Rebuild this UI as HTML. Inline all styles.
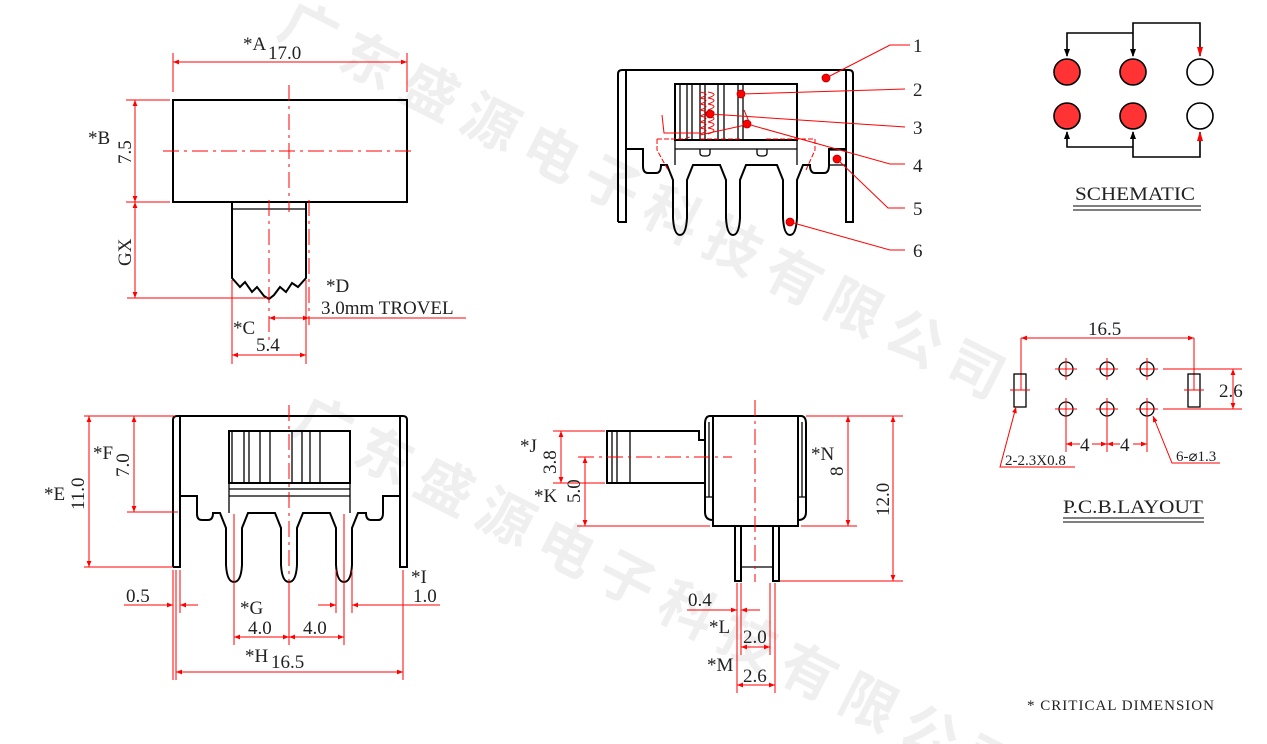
<!DOCTYPE html>
<html><head><meta charset="utf-8"><style>
html,body{margin:0;padding:0;background:#fff;width:1267px;height:744px;overflow:hidden;}
svg{display:block;}
text{font-family:"Liberation Serif",serif;}
.k{stroke:#000;stroke-width:2;fill:none;}
.k1{stroke:#000;stroke-width:1.3;fill:none;}
.r{stroke:#f00;stroke-width:1;fill:none;}
.rd{stroke:#f00;stroke-width:1;fill:none;stroke-dasharray:16,5,3,5;}
.t{font-size:19px;fill:#222;}
.wm{font-family:"Liberation Sans","Noto Sans CJK SC",sans-serif;font-size:56px;font-weight:bold;fill:#000;opacity:0.06;letter-spacing:12px;}
</style></head><body>
<svg width="1267" height="744" viewBox="0 0 1267 744" xmlns="http://www.w3.org/2000/svg">
<defs>
<marker id="a" viewBox="0 0 10 10" refX="10" refY="5" markerWidth="8" markerHeight="6" orient="auto-start-reverse"><path d="M0,1 L10,5 L0,9 z" fill="#f00"/></marker>
</defs>

<!-- watermarks -->
<text class="wm" transform="translate(275,35) rotate(27)">广东盛源电子科技有限公司</text>
<text class="wm" transform="translate(290,430) rotate(27)">广东盛源电子科技有限公司</text>

<!-- ========== TOP LEFT VIEW ========== -->
<rect class="k" x="173" y="100" width="234" height="102"/>
<path class="k" d="M232,202 V278 L240,287 245,282 252,292 257,287 264,296 269,299 274,295 280,287 286,292 292,283 298,287 306,278 V202"/>
<line class="k1" x1="232" y1="209" x2="306" y2="209"/>
<line class="rd" x1="289" y1="85" x2="289" y2="212"/>
<line class="rd" x1="163" y1="151" x2="413" y2="151"/>
<line class="rd" x1="269" y1="200" x2="269" y2="345"/>
<line class="rd" x1="309" y1="200" x2="309" y2="325"/>
<line class="r" x1="173" y1="53" x2="173" y2="92"/><line class="r" x1="407" y1="53" x2="407" y2="92"/>
<line class="r" x1="173" y1="62" x2="407" y2="62" marker-start="url(#a)" marker-end="url(#a)"/>
<text class="t" x="243" y="50">*A</text><text class="t" x="268" y="59">17.0</text>
<line class="r" x1="126" y1="100" x2="170" y2="100"/><line class="r" x1="126" y1="202" x2="170" y2="202"/>
<line class="r" x1="135" y1="100" x2="135" y2="202" marker-start="url(#a)" marker-end="url(#a)"/>
<text class="t" x="88" y="144">*B</text>
<text class="t" transform="translate(131,164) rotate(-90)">7.5</text>
<line class="r" x1="127" y1="298" x2="268" y2="298"/>
<line class="r" x1="135" y1="202" x2="135" y2="298" marker-start="url(#a)" marker-end="url(#a)"/>
<text class="t" transform="translate(131,266) rotate(-90)">GX</text>
<line class="r" x1="232" y1="280" x2="232" y2="364"/><line class="r" x1="306" y1="280" x2="306" y2="364"/>
<line class="r" x1="232" y1="355" x2="306" y2="355" marker-start="url(#a)" marker-end="url(#a)"/>
<text class="t" x="233" y="334">*C</text><text class="t" x="256" y="351">5.4</text>
<line class="r" x1="269" y1="318" x2="309" y2="318" marker-start="url(#a)" marker-end="url(#a)"/>
<line class="r" x1="309" y1="318" x2="466" y2="318"/>
<text class="t" x="326" y="292">*D</text><text class="t" x="321" y="314">3.0mm TROVEL</text>

<!-- ========== TOP MIDDLE VIEW ========== -->
<path class="k" d="M618,222 V74 Q618,70 622,70 H849 Q853,70 853,74 V222 H846 V75 M626,75 V222 H618"/>
<line class="k" x1="626" y1="70" x2="626" y2="222"/>
<line class="k" x1="846" y1="70" x2="846" y2="222"/>
<rect class="k" x="675" y="84" width="122" height="56"/>
<g class="k1">
<line x1="680" y1="84" x2="680" y2="140"/><line x1="687" y1="84" x2="687" y2="140"/><line x1="692" y1="84" x2="692" y2="140"/>
<line x1="700" y1="84" x2="700" y2="140"/><line x1="705" y1="84" x2="705" y2="140"/><line x1="718" y1="84" x2="718" y2="140"/>
<line x1="724" y1="84" x2="724" y2="140"/><line x1="738" y1="84" x2="738" y2="140"/><line x1="743" y1="84" x2="743" y2="140"/>
<line x1="675" y1="149" x2="797" y2="149"/>
<path d="M675,140 V165 M797,140 V165"/>
<path d="M700,149 V153 Q700,156 704,156 H706 Q710,156 710,153 V149 M757,149 V153 Q757,156 761,156 H763 Q767,156 767,153 V149"/>
<rect x="829" y="150" width="17" height="15"/>
</g>
<path class="k" d="M626,149 H643 V166 Q643,173 648,173 H656 Q661,173 661,165 H667
 L673,180 L673,218 Q674,235 680,235 Q686,235 687,218 L687,180 L693,165 H720
 L726,180 L726,218 Q727,235 733,235 Q739,235 740,218 L740,180 L746,165 H777
 L783,180 L783,218 Q784,235 790,235 Q796,235 797,218 L797,180 L803,165 H810 Q810,173 815,173 H824 Q829,173 829,165 V149 H846"/>
<g class="r">
<path d="M700,92 q12,2 0,6 q12,2 0,6 q12,2 0,6 q12,2 0,6 q12,2 0,6 q12,2 0,6 q12,2 0,6 M708,92 q12,2 0,6 q12,2 0,6 q12,2 0,6 q12,2 0,6 q12,2 0,6 q12,2 0,6 q12,2 0,6"/>
<path d="M662,115 L664,133 H700 M744,110 L750,124 L700,135"/>
<path d="M657,139 H684 L690,137 M700,139 H740 M766,139 H815 M657,139 V150 L668,170 M815,139 V150 L806,170" stroke-dasharray="5,2"/>
</g>
<g fill="#f00" stroke="#a00" stroke-width="0.8">
<circle cx="826" cy="78" r="4"/><circle cx="741" cy="94" r="4"/><circle cx="710" cy="114" r="4"/><circle cx="747" cy="124" r="4"/><circle cx="837" cy="159" r="4"/><circle cx="790" cy="222" r="4"/>
</g>
<g class="r">
<polyline points="826,78 890,45 910,45"/>
<polyline points="741,94 905,89"/>
<polyline points="710,114 905,127"/>
<polyline points="747,124 890,164 905,164"/>
<polyline points="837,159 888,208 905,208"/>
<polyline points="790,222 890,250 905,250"/>
</g>
<g class="t"><text x="913" y="52">1</text><text x="913" y="96">2</text><text x="913" y="134">3</text><text x="913" y="172">4</text><text x="913" y="215">5</text><text x="913" y="257">6</text></g>

<!-- ========== SCHEMATIC ========== -->
<g stroke="#000" stroke-width="1.6" fill="none">
<polyline points="1067,56 1067,33 1133,33"/>
<polyline points="1133,56 1133,23 1200,23 1200,56"/>
<polyline points="1067,132 1067,147 1133,147"/>
<polyline points="1133,132 1133,157 1200,157 1200,132"/>
</g>
<path d="M1064,49 L1067,57 L1070,49 z M1130,49 L1133,57 L1136,49 z M1064,139 L1067,131 L1070,139 z M1130,139 L1133,131 L1136,139 z" fill="#000"/>
<path d="M1197,47 L1200,57 L1203,47 z M1197,141 L1200,131 L1203,141 z" fill="#f00"/>
<g stroke="#000" stroke-width="1.6">
<circle cx="1067" cy="72" r="13" fill="#f33"/><circle cx="1133" cy="72" r="13" fill="#f33"/><circle cx="1200" cy="72" r="13" fill="#fff"/>
<circle cx="1067" cy="116" r="13" fill="#f33"/><circle cx="1133" cy="116" r="13" fill="#f33"/><circle cx="1200" cy="116" r="13" fill="#fff"/>
</g>
<text class="t" x="1075" y="200" textLength="120" lengthAdjust="spacingAndGlyphs">SCHEMATIC</text>
<line x1="1073" y1="206" x2="1201" y2="206" stroke="#000"/><line x1="1073" y1="210" x2="1201" y2="210" stroke="#000"/>

<!-- ========== PCB LAYOUT ========== -->
<line class="r" x1="1021" y1="338" x2="1021" y2="390"/><line class="r" x1="1194" y1="338" x2="1194" y2="390"/>
<line class="r" x1="1021" y1="338" x2="1194" y2="338" marker-start="url(#a)" marker-end="url(#a)"/>
<text class="t" x="1088" y="335">16.5</text>
<g class="k1">
<rect x="1014" y="374" width="12" height="33"/><rect x="1188" y="374" width="12" height="33"/>
<circle cx="1066" cy="369" r="7"/><circle cx="1107" cy="369" r="7"/><circle cx="1147" cy="369" r="7"/>
<circle cx="1066" cy="409" r="7"/><circle cx="1107" cy="409" r="7"/><circle cx="1147" cy="409" r="7"/>
</g>
<g class="r">
<path d="M1055,369 h22 M1066,358 v22 M1096,369 h22 M1107,358 v22 M1136,369 h22 M1147,358 v22"/>
<path d="M1055,409 h22 M1066,398 v22 M1096,409 h22 M1107,398 v22 M1136,409 h22 M1147,398 v22"/>
<path d="M1010,390 h20 M1184,390 h20"/>
<path d="M1163,369 H1242 M1163,409 H1242"/>
<line x1="1233" y1="369" x2="1233" y2="409" marker-start="url(#a)" marker-end="url(#a)"/>
<path d="M1066,420 V452 M1107,420 V452 M1147,420 V452"/>
<line x1="1066" y1="444" x2="1080" y2="444" marker-start="url(#a)"/><line x1="1092" y1="444" x2="1107" y2="444" marker-end="url(#a)"/>
<line x1="1107" y1="444" x2="1120" y2="444" marker-start="url(#a)"/><line x1="1133" y1="444" x2="1147" y2="444" marker-end="url(#a)"/>
<polyline points="1075,467 1000,467 1016,407" marker-end="url(#a)"/>
<polyline points="1220,463 1172,463 1153,416" marker-end="url(#a)"/>
</g>
<text class="t" x="1219" y="397">2.6</text>
<text class="t" x="1080" y="451">4</text><text class="t" x="1120" y="451">4</text>
<text x="1005" y="465" style="font-size:15px;fill:#222">2-2.3X0.8</text>
<text x="1176" y="461" style="font-size:15px;fill:#222">6-⌀1.3</text>
<text class="t" x="1063" y="513" textLength="140" lengthAdjust="spacingAndGlyphs">P.C.B.LAYOUT</text>
<line x1="1063" y1="518" x2="1204" y2="518" stroke="#000"/><line x1="1063" y1="522" x2="1204" y2="522" stroke="#000"/>

<!-- ========== BOTTOM LEFT VIEW ========== -->
<path class="k" d="M173,567 V420 Q173,416 177,416 H403 Q407,416 407,420 V567 H400 V424 M180,424 V567 H173"/>
<line class="k" x1="180" y1="416" x2="180" y2="567"/><line class="k" x1="400" y1="416" x2="400" y2="567"/>
<rect class="k" x="229" y="431" width="121" height="52"/>
<g class="k1">
<line x1="232" y1="431" x2="232" y2="483"/><line x1="244" y1="431" x2="244" y2="483"/><line x1="249" y1="431" x2="249" y2="483"/>
<line x1="260" y1="431" x2="260" y2="483"/><line x1="270" y1="431" x2="270" y2="483"/><line x1="292" y1="431" x2="292" y2="483"/>
<line x1="302" y1="431" x2="302" y2="483"/><line x1="310" y1="431" x2="310" y2="483"/><line x1="320" y1="431" x2="320" y2="483"/>
<line x1="229" y1="489" x2="350" y2="489"/><line x1="229" y1="496" x2="350" y2="496"/>
<line x1="229" y1="483" x2="229" y2="513"/><line x1="350" y1="483" x2="350" y2="513"/>
</g>
<path class="k" d="M180,496 H197 V514 Q197,520 202,520 H208 Q213,520 213,513 H220
 L226,528 L226,565 Q227,582 234,582 Q241,582 242,565 L242,528 L248,513 H275
 L281,528 L281,565 Q282,582 289,582 Q296,582 297,565 L297,528 L303,513 H330
 L336,528 L336,565 Q337,582 344,582 Q351,582 352,565 L352,528 L358,513 H366 Q366,520 371,520 H378 Q383,520 383,513 V496 H400"/>
<line class="rd" x1="289" y1="405" x2="289" y2="590"/>
<g class="r">
<line x1="84" y1="416" x2="175" y2="416"/><line x1="127" y1="512" x2="178" y2="512"/><line x1="84" y1="567" x2="173" y2="567"/>
<line x1="89" y1="416" x2="89" y2="567" marker-start="url(#a)" marker-end="url(#a)"/>
<line x1="134" y1="416" x2="134" y2="512" marker-start="url(#a)" marker-end="url(#a)"/>
<line x1="173" y1="570" x2="173" y2="680"/><line x1="176" y1="570" x2="176" y2="680"/><line x1="180" y1="570" x2="180" y2="613"/>
<line x1="403" y1="570" x2="403" y2="680"/>
<line x1="234" y1="514" x2="234" y2="645"/><line x1="289" y1="590" x2="289" y2="645"/><line x1="344" y1="514" x2="344" y2="645"/>
<line x1="336" y1="570" x2="336" y2="613"/><line x1="352" y1="570" x2="352" y2="613"/>
<line x1="124" y1="605" x2="173" y2="605" marker-end="url(#a)"/><line x1="198" y1="605" x2="180" y2="605" marker-end="url(#a)"/>
<line x1="318" y1="605" x2="336" y2="605" marker-end="url(#a)"/><line x1="440" y1="605" x2="352" y2="605" marker-end="url(#a)"/>
<line x1="234" y1="637" x2="289" y2="637" marker-start="url(#a)" marker-end="url(#a)"/>
<line x1="289" y1="637" x2="344" y2="637" marker-start="url(#a)" marker-end="url(#a)"/>
<line x1="176" y1="672" x2="403" y2="672" marker-start="url(#a)" marker-end="url(#a)"/>
</g>
<text class="t" x="44" y="500">*E</text>
<text class="t" transform="translate(84,510) rotate(-90)">11.0</text>
<text class="t" x="93" y="459">*F</text>
<text class="t" transform="translate(129,477) rotate(-90)">7.0</text>
<text class="t" x="126" y="602">0.5</text>
<text class="t" x="411" y="583">*I</text><text class="t" x="413" y="602">1.0</text>
<text class="t" x="240" y="614">*G</text>
<text class="t" x="248" y="634">4.0</text><text class="t" x="303" y="634">4.0</text>
<text class="t" x="245" y="662">*H</text><text class="t" x="271" y="668">16.5</text>

<!-- ========== BOTTOM MIDDLE VIEW ========== -->
<path class="k" d="M713,416 H798 V526 H713 Z"/>
<path class="k" d="M713,416 H710 Q705,416 705,424 V512 Q705,520 713,520 M798,416 H801 Q806,416 806,424 V512 Q806,520 798,520"/>
<path class="k1" d="M709,422 V497 M802,422 V497 M705,497 H713 M798,497 H806"/>
<path class="k" d="M704,440 H699 V431 H607 V483 H704"/>
<g class="k1"><line x1="612" y1="431" x2="612" y2="483"/><line x1="617" y1="431" x2="617" y2="483"/><line x1="630" y1="431" x2="630" y2="483"/></g>
<path class="k" d="M735,526 V581 H741 V526 M773,526 V581 H779 V526"/>
<line class="k1" x1="741" y1="567" x2="773" y2="567"/>
<line class="rd" x1="755" y1="400" x2="755" y2="582"/>
<line class="rd" x1="578" y1="457" x2="732" y2="457"/>
<g class="r">
<line x1="553" y1="431" x2="605" y2="431"/><line x1="553" y1="483" x2="605" y2="483"/><line x1="577" y1="526" x2="710" y2="526"/>
<line x1="561" y1="431" x2="561" y2="483" marker-start="url(#a)" marker-end="url(#a)"/>
<line x1="585" y1="457" x2="585" y2="526" marker-start="url(#a)" marker-end="url(#a)"/>
<line x1="806" y1="416" x2="903" y2="416"/><line x1="801" y1="526" x2="857" y2="526"/><line x1="780" y1="581" x2="903" y2="581"/>
<line x1="848" y1="416" x2="848" y2="526" marker-start="url(#a)" marker-end="url(#a)"/>
<line x1="893" y1="416" x2="893" y2="581" marker-start="url(#a)" marker-end="url(#a)"/>
<line x1="737" y1="583" x2="737" y2="693"/><line x1="741" y1="583" x2="741" y2="655"/><line x1="770" y1="583" x2="770" y2="655"/><line x1="775" y1="583" x2="775" y2="693"/>
<line x1="687" y1="610" x2="737" y2="610" marker-end="url(#a)"/><line x1="760" y1="610" x2="741" y2="610" marker-end="url(#a)"/>
<line x1="741" y1="647" x2="770" y2="647" marker-start="url(#a)" marker-end="url(#a)"/>
<line x1="737" y1="685" x2="775" y2="685" marker-start="url(#a)" marker-end="url(#a)"/>
</g>
<text class="t" x="520" y="452">*J</text>
<text class="t" transform="translate(556,474) rotate(-90)">3.8</text>
<text class="t" x="534" y="502">*K</text>
<text class="t" transform="translate(580,503) rotate(-90)">5.0</text>
<text class="t" x="811" y="460">*N</text>
<text class="t" transform="translate(843,476) rotate(-90)">8</text>
<text class="t" transform="translate(889,516) rotate(-90)">12.0</text>
<text class="t" x="688" y="606">0.4</text>
<text class="t" x="709" y="633">*L</text><text class="t" x="743" y="643">2.0</text>
<text class="t" x="707" y="671">*M</text><text class="t" x="743" y="682">2.6</text>

<text x="1027" y="710" style="font-size:15px;fill:#222" textLength="187" lengthAdjust="spacing">* CRITICAL  DIMENSION</text>
</svg>
</body></html>
